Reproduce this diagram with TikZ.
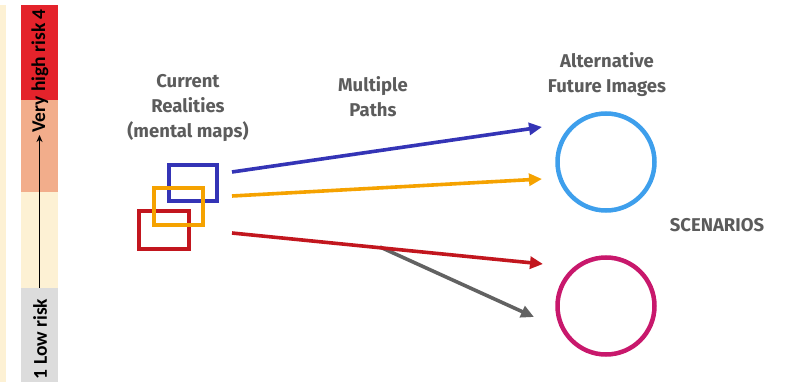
\documentclass[tikz,border=0pt]{standalone}
\usepackage{fontspec}
\setmainfont{Fira Sans}
\newfontfamily\riskfont{Carlito}
\usetikzlibrary{arrows.meta}

\definecolor{labelgray}{HTML}{5C5C5C}

\begin{document}
\begin{tikzpicture}
[x=1pt, y=-1pt,
 every node/.style = {text=labelgray, align=center, font=\bfseries\fontsize{18.5}{25}\selectfont},
 map/.style = {draw, line width=4pt, inner sep=0pt},
 pathline/.style = {line width=3.6pt, -{Triangle[length=13pt,width=12pt]}},
 scenario/.style = {circle, draw, line width=4.5pt, minimum size=97pt, inner sep=0pt},
 riskband/.style = {inner sep=0pt, minimum width=37pt},
 risklabel/.style = {rotate=90, text=black, font=\riskfont\bfseries\fontsize{19.5}{22}\selectfont}]

% Define path colors
\definecolor{bluecolor}{HTML}{3434B6}
\definecolor{orangecolor}{HTML}{F5A200}
\definecolor{redcolor}{HTML}{C2161E}
\definecolor{graycolor}{HTML}{626262}
\definecolor{futurecolor}{HTML}{3E9FEC}
\definecolor{pinkcolor}{HTML}{C8186C}
% risk bar colors
\definecolor{riskred}{HTML}{E4232B}
\definecolor{risksalmon}{HTML}{F2AD8B}
\definecolor{riskcream}{HTML}{FDF1D4}
\definecolor{riskgray}{HTML}{DCDCDC}

\useasboundingbox (0,0) rectangle (792,382);

%%%%%%%%%%% RISK BAR
\fill[riskcream] (0,5) rectangle (6,382);
\node[riskband, fill=riskred, minimum height=95pt] (veryhigh) at (39.5,52.5) {};
\node[riskband, fill=risksalmon, minimum height=92pt] (high) at (39.5,146) {};
\node[riskband, fill=riskcream, minimum height=96pt] (medium) at (39.5,240) {};
\node[riskband, fill=riskgray, minimum height=94pt] (low) at (39.5,335) {};
\draw[line width=1.3pt, -{Stealth[length=7pt,width=6pt]}] (low.north) -- (39.5,135);
\node[risklabel] (vhtext) at (40,71) {Very high risk 4};
\node[risklabel] (lowtext) at (40,339) {1 Low risk};

%%%%%%%%%%% CURRENT REALITIES
\node (current) at (188,108) {Current\\Realities\\(mental maps)};
\node[map, draw=redcolor, minimum width=50pt, minimum height=38pt] (redmap) at (164,230) {};
\node[map, draw=bluecolor, minimum width=48pt, minimum height=36pt] (bluemap) at (193,183) {};
\node[map, draw=orangecolor, minimum width=49pt, minimum height=37pt] (orangemap) at (178.5,206.5) {};

%%%%%%%%%%% PATHS
\node (paths) at (373,97) {Multiple\\Paths};
\coordinate (bluestart) at (232,172);
\coordinate (orangestart) at (232,196);
\coordinate (redstart) at (232,233);
\coordinate (branch) at (380,247);
\coordinate (blueend) at (542,127);
\coordinate (orangeend) at (542,179);
\coordinate (redend) at (543,264);
\coordinate (grayend) at (534,317);
\draw[pathline, bluecolor] (bluestart) -- (blueend);
\draw[pathline, orangecolor] (orangestart) -- (orangeend);
\draw[pathline, graycolor] (branch) -- (grayend);
\draw[pathline, redcolor] (redstart) -- (redend);

%%%%%%%%%%% FUTURES
\node (future) at (607,75) {Alternative\\Future Images};
\node[scenario, draw=futurecolor] (futureone) at (606,162) {};
\node[scenario, draw=pinkcolor] (futuretwo) at (606,306) {};
\node (scenarios) at (717,225) {SCENARIOS};

\end{tikzpicture}
\end{document}
